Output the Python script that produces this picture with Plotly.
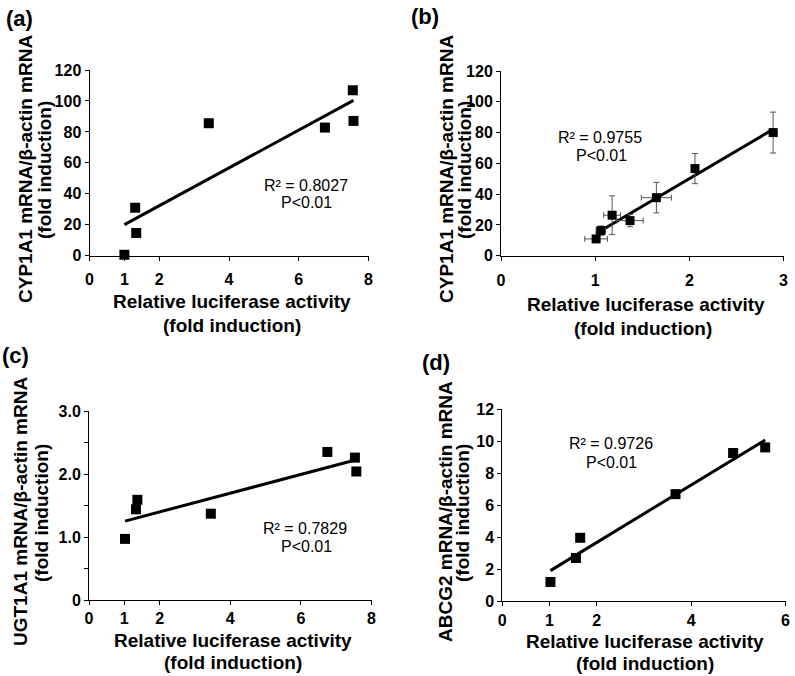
import numpy as np
import plotly.graph_objects as go

W, H = 795, 676

# ---------------- data ----------------
a_x = [1.00, 1.31, 1.34, 3.42, 6.75, 7.55, 7.57]
a_y = [0.6, 31.0, 14.7, 85.6, 82.8, 106.9, 87.1]

b_x = [1.01, 1.06, 1.18, 1.37, 1.65, 2.06, 2.89]
b_y = [10.9, 16.3, 26.3, 22.8, 37.7, 56.6, 80.0]
b_xerr = [0.12, 0.05, 0.09, 0.14, 0.16, 0.02, 0.04]
b_yerr = [2.0, 3.0, 12.6, 4.0, 9.9, 9.8, 13.3]

c_x = [1.02, 1.33, 1.37, 3.45, 6.75, 7.53, 7.57]
c_y = [0.97, 1.44, 1.59, 1.37, 2.35, 2.26, 2.04]

d_x = [1.02, 1.56, 1.65, 3.67, 4.89, 5.57]
d_y = [1.19, 2.69, 3.95, 6.68, 9.25, 9.60]

a_xticks = [0, 1, 2, 4, 6, 8]
b_xticks = [0, 1, 2, 3]
c_xticks = [0, 1, 2, 4, 6, 8]
d_xticks = [0, 1, 2, 4, 6]
a_yticks = [0, 20, 40, 60, 80, 100, 120]
b_yticks = [0, 20, 40, 60, 80, 100, 120]
c_yticks = [0, 0.5, 1.0, 1.5, 2.0, 2.5, 3.0]
c_yticklabels = ["0", "", "1.0", "", "2.0", "", "3.0"]
d_yticks = [0, 2, 4, 6, 8, 10, 12]

panel_labels = ["(a)", "(b)", "(c)", "(d)"]
y_titles = ["CYP1A1 mRNA/β-actin mRNA", "CYP1A1 mRNA/β-actin mRNA",
            "UGT1A1 mRNA/β-actin mRNA", "ABCG2 mRNA/β-actin mRNA"]
x_title = "Relative luciferase activity"
fold_txt = "(fold induction)"
r2_texts = ["R² = 0.8027", "R² = 0.9755", "R² = 0.7829", "R² = 0.9726"]
p_text = "P<0.01"

FONT = "Liberation Sans, Arial, Helvetica, sans-serif"

# panel pixel boxes: x0, x1, ytop, ybot
boxes = [
    (89.5, 368.5, 70.0, 255.7),
    (501.0, 783.5, 71.0, 255.7),
    (89.0, 371.5, 411.0, 600.0),
    (502.3, 785.5, 409.0, 601.0),
]
x_label_standoff = [5, 6, 0, 1]

fig = go.Figure()

datasets = [(a_x, a_y), (b_x, b_y), (c_x, c_y), (d_x, d_y)]
for i, (xs, ys) in enumerate(datasets):
    ax = "" if i == 0 else str(i + 1)
    xs_arr = np.array(xs)
    slope, icpt = np.polyfit(xs_arr, np.array(ys), 1)
    lx = np.array([xs_arr.min(), xs_arr.max()])
    fig.add_trace(go.Scatter(
        x=lx, y=slope * lx + icpt, mode="lines",
        line=dict(color="black", width=3),
        xaxis="x" + ax, yaxis="y" + ax, showlegend=False, hoverinfo="skip"))
    kw = {}
    if i == 1:
        kw["error_x"] = dict(type="data", array=b_xerr, visible=True,
                             color="#555555", thickness=1, width=3)
        kw["error_y"] = dict(type="data", array=b_yerr, visible=True,
                             color="#555555", thickness=1, width=3)
    fig.add_trace(go.Scatter(
        x=xs, y=ys, mode="markers",
        marker=dict(symbol="square", size=9 if i == 1 else 10, color="black"),
        cliponaxis=False,
        xaxis="x" + ax, yaxis="y" + ax, showlegend=False, **kw))

xranges = [[0, 8], [0, 3], [0, 8], [0, 6]]
yranges = [[0, 120], [0, 120], [0, 3], [0, 12]]
xtick_sets = [a_xticks, b_xticks, c_xticks, d_xticks]
ytick_sets = [a_yticks, b_yticks, c_yticks, d_yticks]

tickfont = dict(family=FONT, size=16, color="black", weight="bold")

layout = dict(
    width=W, height=H,
    margin=dict(l=0, r=0, t=0, b=0),
    paper_bgcolor="white", plot_bgcolor="white",
    template="none",
    font=dict(family=FONT, color="black"),
    showlegend=False,
)

for i in range(4):
    x0, x1, yt, yb = boxes[i]
    ax = "" if i == 0 else str(i + 1)
    xk = "xaxis" + ax
    yk = "yaxis" + ax
    common = dict(showline=True, linecolor="black", linewidth=1,
                  ticks="outside", ticklen=4, tickwidth=1, tickcolor="black",
                  showgrid=False, zeroline=False, automargin=False,
                  tickfont=tickfont, fixedrange=True)
    layout[xk] = dict(domain=[x0 / W, x1 / W], range=xranges[i],
                      anchor="y" + ax, tickmode="array",
                      tickvals=xtick_sets[i],
                      ticktext=[str(v) for v in xtick_sets[i]],
                      ticklabelstandoff=x_label_standoff[i], **common)
    ytext = c_yticklabels if i == 2 else [str(v) for v in ytick_sets[i]]
    layout[yk] = dict(domain=[1 - yb / H, 1 - yt / H], range=yranges[i],
                      anchor="x" + ax, tickmode="array",
                      tickvals=ytick_sets[i], ticktext=ytext, **common)

fig.update_layout(**layout)

ann = []

def add_text(txt, x, y, size, bold=False, angle=0):
    ann.append(dict(
        text=txt, x=x / W, y=1 - y / H, xref="paper", yref="paper",
        xanchor="center", yanchor="middle", showarrow=False,
        textangle=angle,
        font=dict(family=FONT, size=size, color="black",
                  weight="bold" if bold else "normal")))

# panel labels (left, center-y)
label_pos = [(19, 18), (425, 17), (15, 355), (436, 362)]
for t, (x, y) in zip(panel_labels, label_pos):
    add_text(t, x, y, 22, bold=True)

# y-axis titles (two lines each)
ytitle_pos = [((25, 169), (44, 170)),
              ((446, 169), (464, 170)),
              ((20, 512), (41, 513)),
              ((445, 512), (462, 513))]
for t, (p1, p2) in zip(y_titles, ytitle_pos):
    add_text(t, p1[0], p1[1], 19, bold=True, angle=-90)
    add_text(fold_txt, p2[0], p2[1], 19, bold=True, angle=-90)

# x-axis titles
xtitle_pos = [((232, 302), (232, 325)),
              ((646, 305), (643, 328)),
              ((233, 640), (233, 662)),
              ((645, 641), (645, 663))]
for p1, p2 in xtitle_pos:
    add_text(x_title, p1[0], p1[1], 19, bold=True)
    add_text(fold_txt, p2[0], p2[1], 19, bold=True)

# R² / P annotations
r2_pos = [((306, 185), (306, 203)),
          ((600, 137), (601, 155)),
          ((305, 528), (306, 546)),
          ((611, 443), (611, 462))]
for t, (p1, p2) in zip(r2_texts, r2_pos):
    add_text(t, p1[0], p1[1], 16)
    add_text(p_text, p2[0], p2[1], 16)

fig.update_layout(annotations=ann)

fig.write_html("out.html",
               config={"displayModeBar": False},
               post_script="document.body.style.margin='0';"
                           "document.body.style.overflow='hidden';")
